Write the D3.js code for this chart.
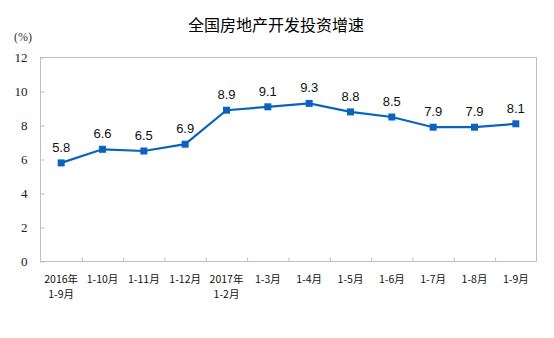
<!DOCTYPE html>
<html><head><meta charset="utf-8">
<script src="https://cdn.jsdelivr.net/npm/d3@7"></script>
<style>body{margin:0;background:#fff}svg{display:block}</style>
</head><body>
<script>
const title = "全国房地产开发投资增速";
const categories = ["2016年\n1-9月","1-10月","1-11月","1-12月","2017年\n1-2月","1-3月","1-4月","1-5月","1-6月","1-7月","1-8月","1-9月"];
const values = [5.8, 6.6, 6.5, 6.9, 8.9, 9.1, 9.3, 8.8, 8.5, 7.9, 7.9, 8.1];
const yTicks = [0, 2, 4, 6, 8, 10, 12];

const W = 554, H = 338;
const m = {l: 40.5, r: 536.5, t: 57.5, b: 261.5};
const svg = d3.select("body").append("svg").attr("width", W).attr("height", H);

const x = d3.scaleBand().domain(d3.range(categories.length)).range([m.l, m.r]);
const y = d3.scaleLinear().domain([0, 12]).range([m.b, m.t]);
const grey = "#bfbfbf";
const blue = "#0a63bf";

svg.append("text").attr("x", 276).attr("y", 31).attr("text-anchor", "middle")
  .attr("font-family", "Noto Sans CJK SC").attr("font-size", 16).attr("fill", "#000").text(title);
svg.append("text").attr("x", 23).attr("y", 41).attr("text-anchor", "middle")
  .attr("font-family", "Liberation Serif").attr("font-size", 12).attr("fill", "#333").text("(%)");

svg.append("rect").attr("x", m.l).attr("y", m.t).attr("width", m.r - m.l).attr("height", m.b - m.t)
  .attr("fill", "none").attr("stroke", grey).attr("stroke-width", 1);

// y axis
const ya = svg.append("g").attr("transform", `translate(${m.l},0)`)
  .call(d3.axisLeft(y).tickValues(yTicks).tickSize(-4).tickPadding(13).tickFormat(d3.format("d")));
ya.select(".domain").remove();
ya.selectAll("line").attr("stroke", grey);
ya.selectAll("text").attr("font-family", "Liberation Serif").attr("font-size", 13).attr("fill", "#222");

// x axis ticks at category boundaries
const xb = d3.scaleLinear().domain([0, categories.length]).range([m.l, m.r]);
const xa = svg.append("g").attr("transform", `translate(0,${m.b})`)
  .call(d3.axisBottom(xb).tickValues(d3.range(1, categories.length)).tickSize(-4).tickFormat(""));
xa.select(".domain").remove();
xa.selectAll("line").attr("stroke", grey);

const lab = svg.append("g").attr("font-family", "Noto Sans CJK SC").attr("font-size", 10.5).attr("fill", "#111");
categories.forEach((c, i) => {
  const t = lab.append("text").attr("text-anchor", "middle")
    .attr("x", x(i) + x.bandwidth() / 2).attr("y", m.b + 21);
  c.split("\n").forEach((s, k) => {
    t.append("tspan").attr("x", x(i) + x.bandwidth() / 2).attr("dy", k ? 15 : 0).text(s);
  });
});

const line = d3.line().x((d, i) => x(i) + x.bandwidth() / 2).y(d => y(d));
svg.append("path").datum(values).attr("d", line).attr("fill", "none")
  .attr("stroke", blue).attr("stroke-width", 2.2);
svg.append("g").selectAll("rect").data(values).join("rect")
  .attr("x", (d, i) => x(i) + x.bandwidth() / 2 - 3.5).attr("y", d => y(d) - 3.5)
  .attr("width", 7).attr("height", 7).attr("fill", blue);
svg.append("g").selectAll("text").data(values).join("text")
  .attr("x", (d, i) => x(i) + x.bandwidth() / 2).attr("y", d => y(d) - 11)
  .attr("text-anchor", "middle").attr("font-family", "Liberation Sans").attr("font-size", 13)
  .attr("fill", "#111").text(d => d3.format(".1f")(d));
</script>
</body></html>
